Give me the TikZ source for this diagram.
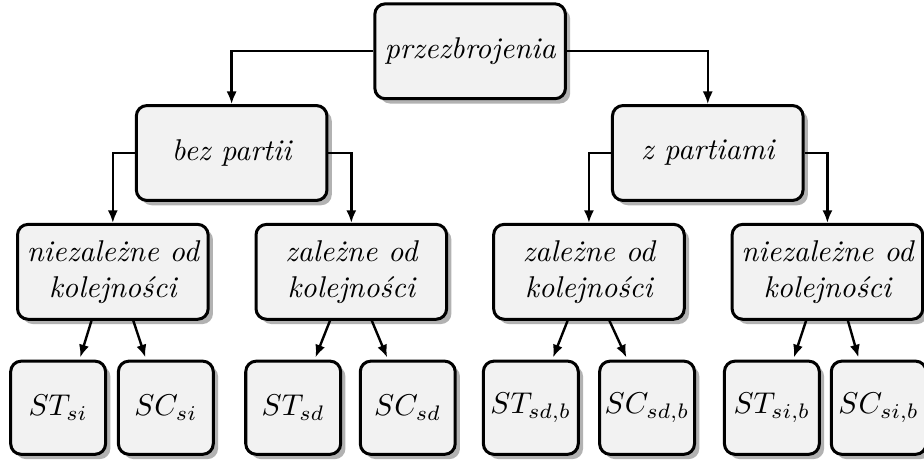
\documentclass[tikz,border=0pt]{standalone}
\usepackage{tikz}
\usetikzlibrary{calc}
\usetikzlibrary{arrows.meta}
\usetikzlibrary{positioning, shadows}
\usepackage{amsmath,amssymb}
\usepackage{xcolor}
\definecolor{boxFill}{HTML}{f2f2f2}
\colorlet{boxShadow}{black!30}

\begin{document}
\begin{tikzpicture}[xscale=1,yscale=1,
    box/.style={draw, line width=1pt, rounded corners=3.5pt, fill=boxFill,
      drop shadow={shadow xshift=1.6pt, shadow yshift=-1.6pt, fill=boxShadow, opacity=1},
      align=center, font=\itshape, minimum width=2.23cm, minimum height=1.11cm, inner sep=1pt},
    leafbox/.style={box, minimum width=1.11cm, minimum height=1.09cm},
    link/.style={-{Latex[length=4.2pt,width=3.4pt]}, thick}]
        \useasboundingbox (0,0) rectangle (10.81,-5.43);
        \node[box] (root) at (5.50,-0.60) {przezbrojenia};
        \node[box] (bez) at (2.71,-1.79) {bez partii};
        \node[box] (zpart) at (8.28,-1.79) {z partiami};
        \node[box] (niezA) at (1.32,-3.18) {niezależne od\\kolejności};
        \node[box] (zalA) at (4.11,-3.18) {zależne od\\kolejności};
        \node[box] (zalB) at (6.89,-3.18) {zależne od\\kolejności};
        \node[box] (niezB) at (9.68,-3.18) {niezależne od\\kolejności};
        % leaves
        \node[leafbox] (stsi) at (0.68,-4.77) {$ST_{si}$};
        \node[leafbox] (scsi) at (1.94,-4.77) {$SC_{si}$};
        \node[leafbox] (stsd) at (3.43,-4.77) {$ST_{sd}$};
        \node[leafbox] (scsd) at (4.77,-4.77) {$SC_{sd}$};
        \node[leafbox] (stsdb) at (6.21,-4.77) {$ST_{sd,b}$};
        \node[leafbox] (scsdb) at (7.57,-4.77) {$SC_{sd,b}$};
        \node[leafbox] (stsib) at (9.03,-4.77) {$ST_{si,b}$};
        \node[leafbox] (scsib) at (10.28,-4.77) {$SC_{si,b}$};
        \draw[link] (root.west) -| (bez.north);
        \draw[link] (root.east) -| (zpart.north);
        \draw[link] (bez.west) -| (niezA.north);
        \draw[link] (bez.east) -| (zalA.north);
        \draw[link] (zpart.west) -| (zalB.north);
        \draw[link] (zpart.east) -| (niezB.north);
        %\draw[link] (niezA.south) -- (stsi.north);
        \foreach \p/\l/\r in {niezA/stsi/scsi, zalA/stsd/scsd, zalB/stsdb/scsdb, niezB/stsib/scsib}{
          \draw[link, shorten >=0.8pt] ([xshift=-0.25cm]\p.south) -- ([xshift=0.25cm]\l.north);
          \draw[link, shorten >=0.8pt] ([xshift=0.24cm]\p.south) -- ([xshift=-0.23cm]\r.north);
        }
      \end{tikzpicture}
\end{document}
